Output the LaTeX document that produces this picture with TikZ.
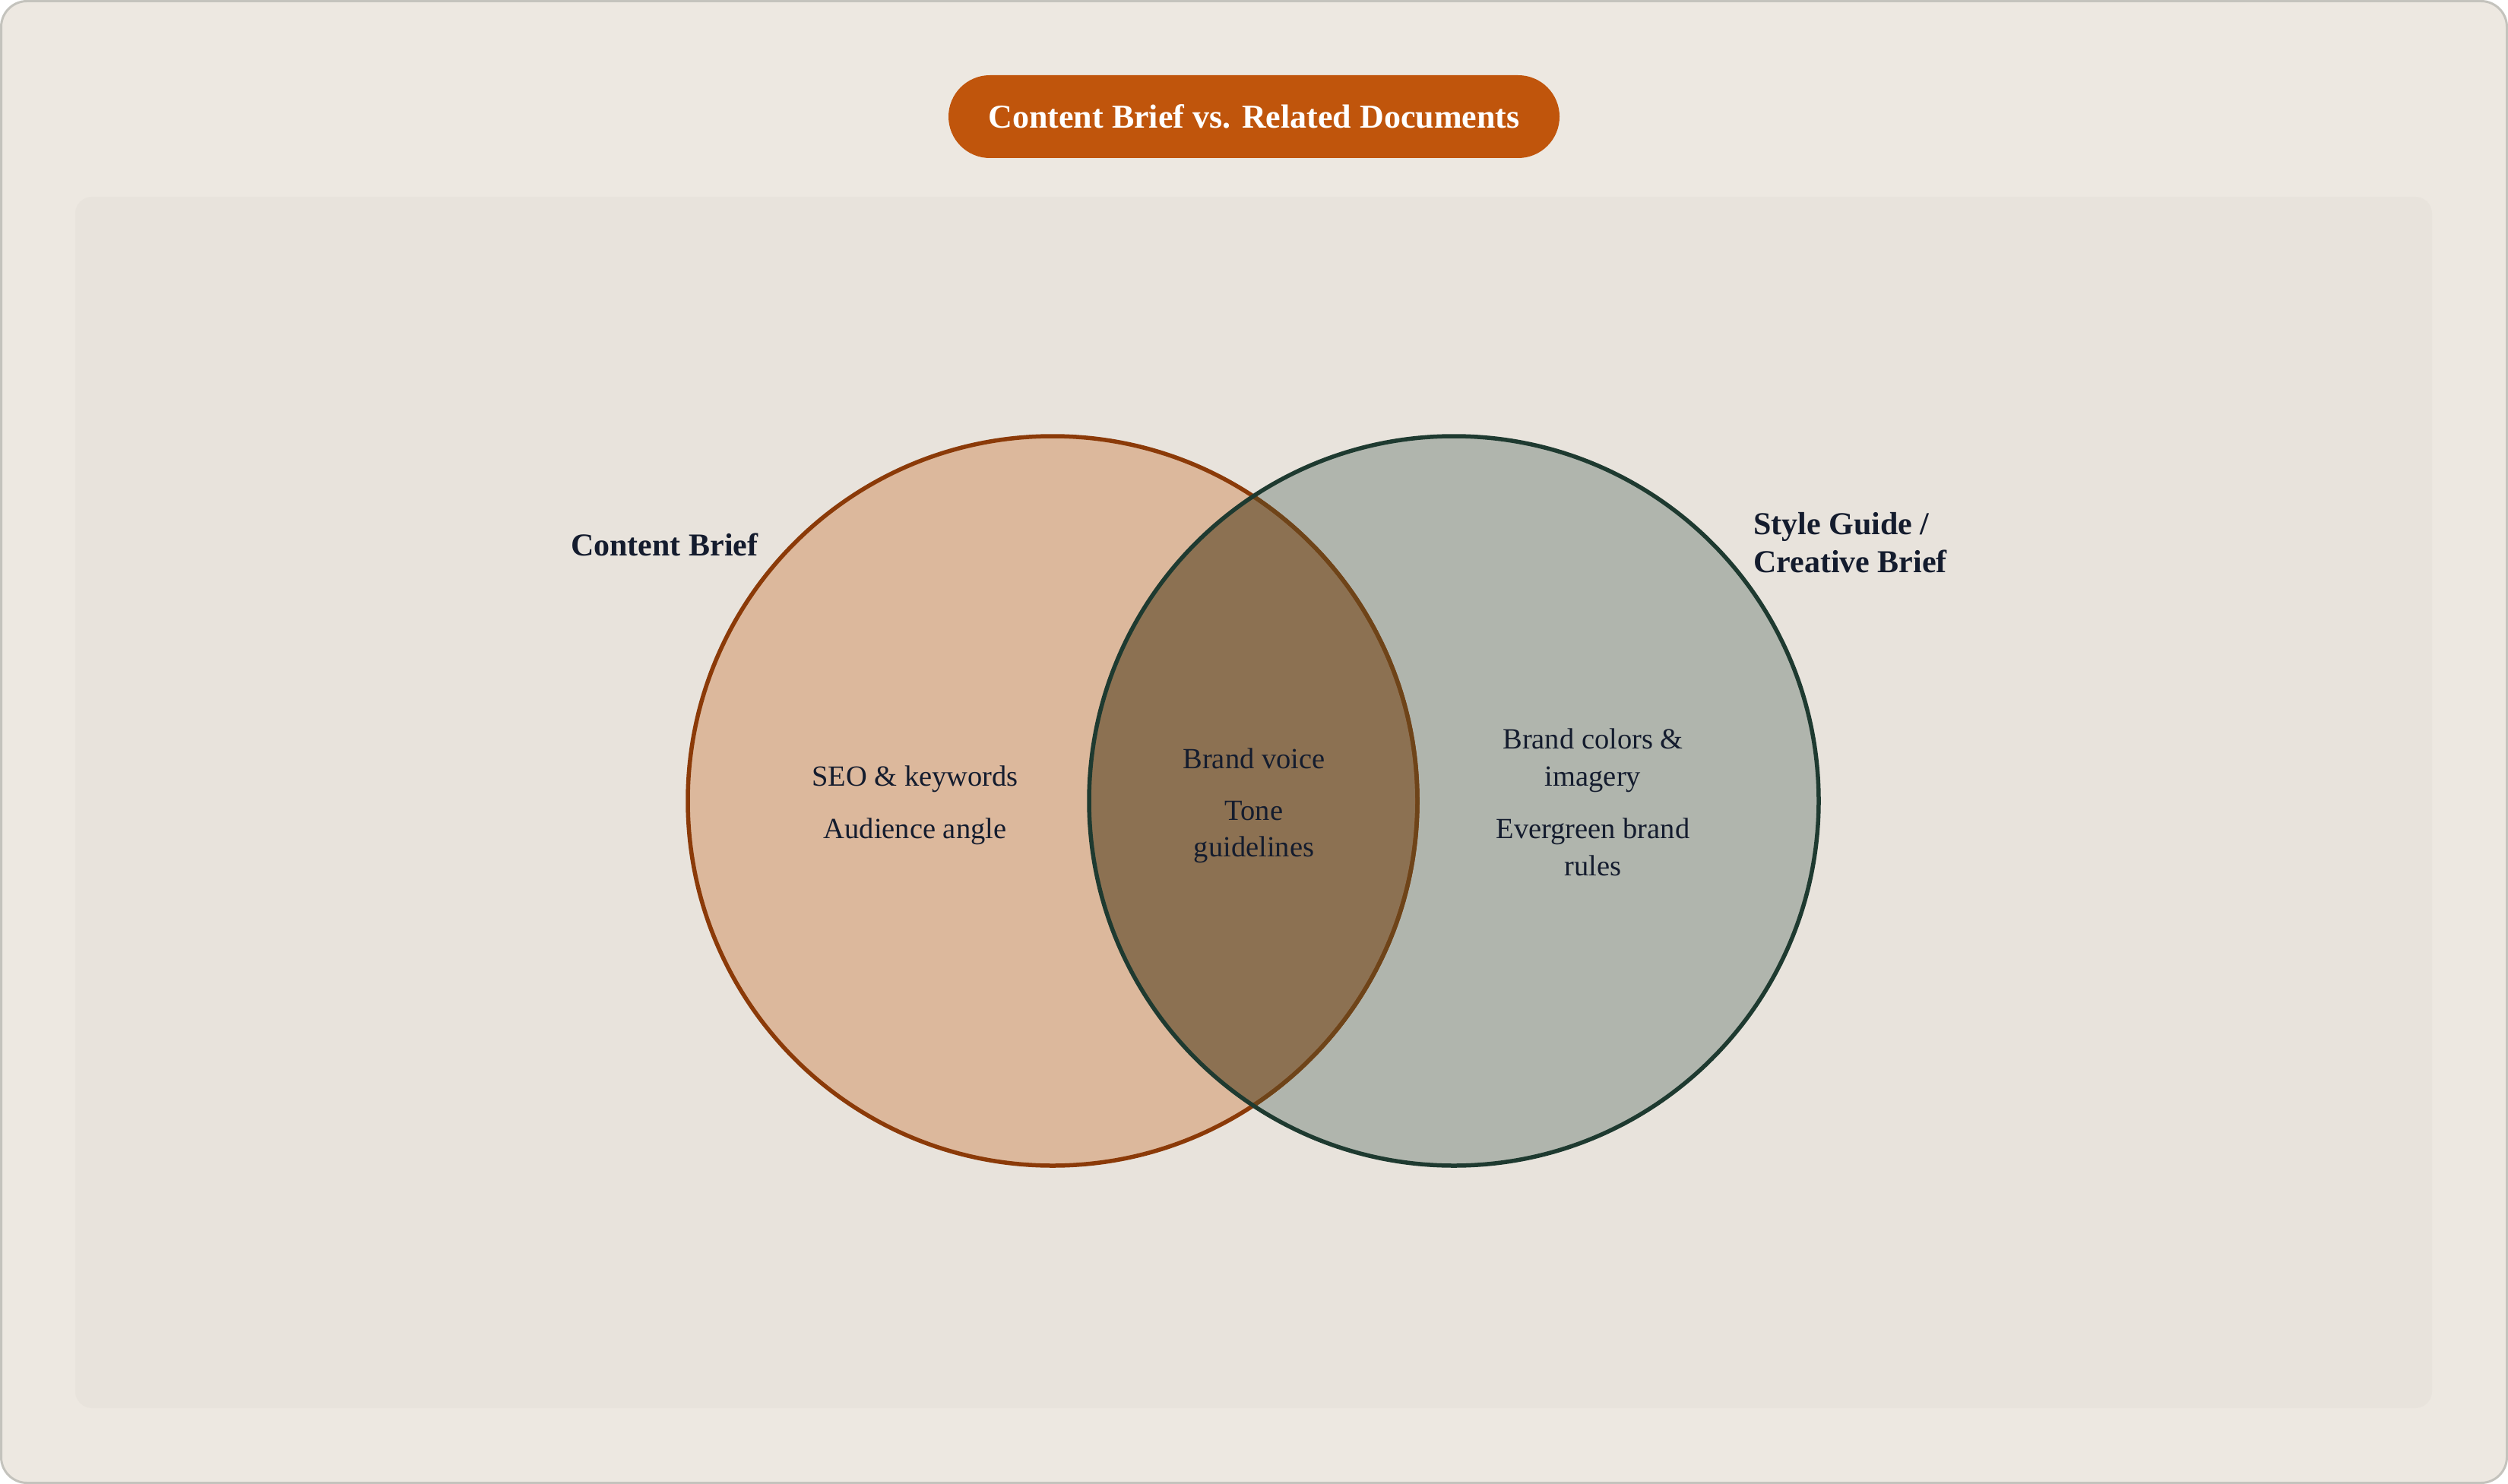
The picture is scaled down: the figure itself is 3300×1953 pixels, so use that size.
\documentclass[tikz,border=0pt]{standalone}
\usepackage{fontspec}
\setmainfont{Liberation Serif}
\definecolor{framebg}{HTML}{EDE8E1}
\definecolor{frameline}{HTML}{C4C3BD}
\definecolor{panelbg}{HTML}{E8E3DC}
\definecolor{pillfill}{HTML}{C0550C}
\definecolor{leftfill}{HTML}{DCB89C}
\definecolor{leftline}{HTML}{8B3A08}
\definecolor{leftmuted}{HTML}{6E4419}
\definecolor{rightfill}{HTML}{B0B5AD}
\definecolor{rightline}{HTML}{1E3A30}
\definecolor{overlapfill}{HTML}{8C7152}
\definecolor{inktext}{HTML}{141C2E}
\tikzset{
  bodytext/.style={text=inktext, inner sep=0pt, anchor=base, font=\fontsize{38.5}{47}\selectfont},
  labeltext/.style={text=inktext, inner sep=0pt, anchor=base west, font=\fontsize{42}{50}\selectfont\bfseries},
  titletext/.style={text=white, inner sep=0pt, anchor=base, font=\fontsize{44}{52}\selectfont\bfseries},
}
\begin{document}
\begin{tikzpicture}[x=1pt,y=-1pt]
\useasboundingbox (0,0) rectangle (3300,1953);
% outer frame
\draw[fill=framebg, draw=frameline, line width=3pt, rounded corners=34pt] (1.5,1.5) rectangle (3298.5,1951.5);
% inner panel
\fill[panelbg, rounded corners=22pt] (99,259) rectangle (3200,1853);
% title pill
\node[fill=pillfill, rounded corners=54.5pt, minimum width=804pt, minimum height=109pt, inner sep=0pt] (pill) at (1650,153.5) {};
\node[titletext] (title) at (1650,169) {Content Brief vs. Related Documents};
% circles
\coordinate (lc) at (1385,1054);
\coordinate (rc) at (1913,1054);
\fill[leftfill] (lc) circle[radius=480pt];
\fill[rightfill] (rc) circle[radius=480pt];
\begin{scope}
  \clip (lc) circle[radius=480pt];
  \fill[overlapfill] (rc) circle[radius=480pt];
\end{scope}
\draw[leftline, line width=5.5pt] (lc) circle[radius=480pt];
\begin{scope}
  \clip (rc) circle[radius=480pt];
  \draw[leftmuted, line width=5.5pt] (lc) circle[radius=480pt];
\end{scope}
\draw[rightline, line width=5.5pt] (rc) circle[radius=480pt];
% set labels
\node[labeltext] (cb) at (751,731) {Content Brief};
\node[labeltext] (sg1) at (2307,703) {Style Guide /};
\node[labeltext] (sg2) at (2307,753) {Creative Brief};
% left items
\node[bodytext] (l1) at (1204,1034) {SEO \& keywords};
\node[bodytext] (l2) at (1204,1103) {Audience angle};
% center items
\node[bodytext] (c1) at (1650,1011) {Brand voice};
\node[bodytext] (c2) at (1650,1079) {Tone};
\node[bodytext] (c3) at (1650,1127) {guidelines};
% right items
\node[bodytext] (r1) at (2096,985) {Brand colors \&};
\node[bodytext] (r2) at (2096,1034) {imagery};
\node[bodytext] (r3) at (2096,1103) {Evergreen brand};
\node[bodytext] (r4) at (2096,1152) {rules};
\end{tikzpicture}
\end{document}
